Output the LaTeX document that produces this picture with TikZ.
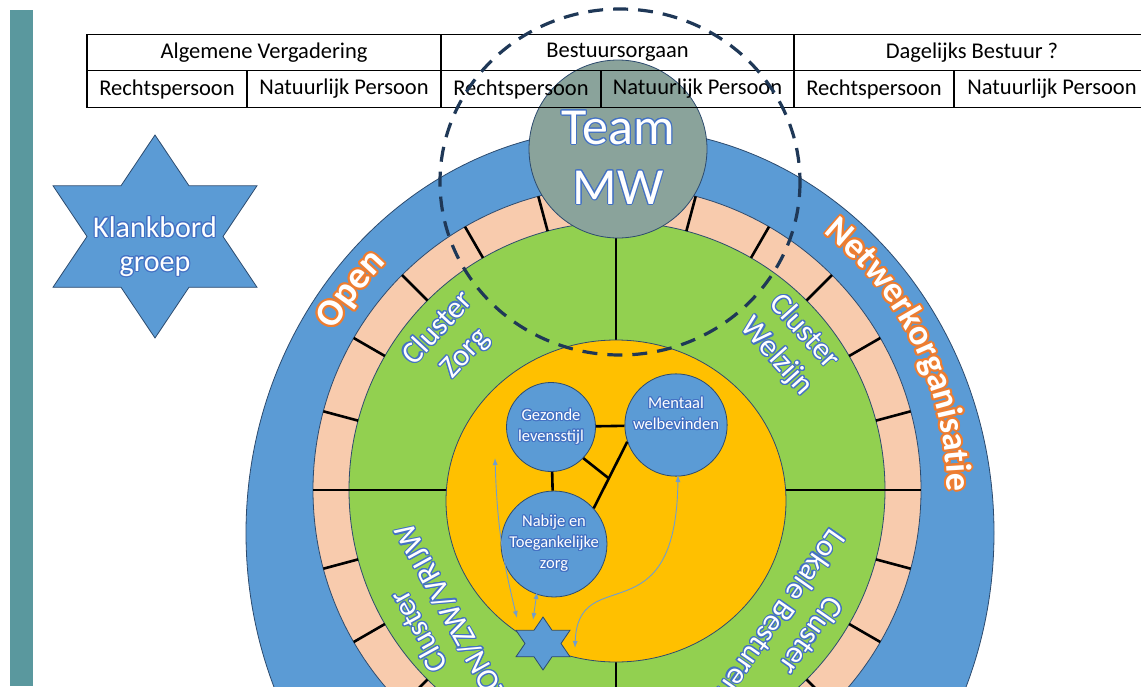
\documentclass[tikz,border=0pt]{standalone}
\usepackage{fontspec}
\setmainfont{Carlito}
\usepackage[copies]{contour}
\usetikzlibrary{arrows.meta,decorations.text,positioning}

\definecolor{tealbar}{RGB}{90,152,158}
\definecolor{ringblue}{RGB}{91,155,213}
\definecolor{peach}{RGB}{248,203,173}
\definecolor{leaf}{RGB}{146,208,80}
\definecolor{gold}{RGB}{255,192,0}
\definecolor{teamgray}{RGB}{138,163,155}
\definecolor{edgenavy}{RGB}{45,75,110}
\definecolor{dashnavy}{RGB}{31,56,87}
\definecolor{glowblue}{RGB}{68,114,196}
\definecolor{wordorange}{RGB}{237,125,49}
\definecolor{arrowblue}{RGB}{112,157,207}

\contourlength{1.1pt}
\newcommand\glow[1]{\contour{glowblue}{#1}}
\newcommand\oglow[1]{{\contourlength{2pt}\contour{wordorange}{#1}}}

\tikzset{
  hexagram/.pic={
    \filldraw[hexfill] (0,-1) -- (1/3,-0.5) -- (1,-0.5) -- (2/3,0) -- (1,0.5) -- (1/3,0.5)
      -- (0,1) -- (-1/3,0.5) -- (-1,0.5) -- (-2/3,0) -- (-1,-0.5) -- (-1/3,-0.5) -- cycle;
  }
}

\begin{document}
\begin{tikzpicture}[x=1pt, y=-1pt,
	ring/.style={draw=edgenavy, line width=0.8},
	tick/.style={black, line width=2.6},
	hexfill/.style={fill=ringblue, draw=edgenavy, line width=0.8},
	cell/.style={rectangle, draw=black, line width=1.2, minimum height=36.5, inner sep=0, font=\fontsize{22.5}{26}\selectfont},
	teamdisc/.style={circle, fill=teamgray, draw=edgenavy, line width=0.8, minimum size=178, inner sep=0},
	teamword/.style={align=center, text=white, inner sep=0, font=\fontsize{52}{60}\selectfont},
	bubble/.style={circle, fill=ringblue, draw=edgenavy, line width=0.8, minimum size=89, inner sep=0, align=center, text=white, font=\fontsize{16.5}{21}\selectfont},
	clusterword/.style={align=center, text=white, inner sep=0, font=\fontsize{31}{37}\selectfont},
	starlabel/.style={align=center, text=white, inner sep=0, font=\fontsize{30}{34}\selectfont},
	bond/.style={black, line width=2.6},
	link/.style={arrowblue, line width=0.9, {Latex[length=7,width=5]}-{Latex[length=7,width=5]}},
	dashring/.style={dashnavy, line width=3.2, dash pattern=on 15 off 10},
	ringword/.style 2 args={decorate, decoration={text effects along path, text={#1}, text align=center,
		text effects/.cd, text along path, character command=\oglow,
		every character/.append style={font=\fontsize{#2}{#2}\selectfont\bfseries, text=white}}}]

	\useasboundingbox (0,0) rectangle (1141,686);
	\clip (0,0) rectangle (1141,686);

	%Background
	\fill[tealbar] (10,10) rectangle (33,686);

	%Rings
	\coordinate (ctr) at (617,490);
	\filldraw[ring, fill=ringblue] (620,533) ellipse[x radius=374, y radius=405];
	\filldraw[ring, fill=peach] (ctr) circle[radius=304];
	\filldraw[ring, fill=leaf] (ctr) circle[radius=268];
	\foreach \a in {-60,-45,...,240}
		\draw[tick] ([shift={(-\a:268)}]ctr) -- ([shift={(-\a:304)}]ctr);
	\draw[tick] (616,222) -- (616,760);
	\draw[tick] (314,490) -- (921,490);
	\filldraw[ring, fill=gold] (616,501) ellipse[x radius=170, y radius=161];

	%Team
	\node[teamdisc] (team) at (618,149) {};
	\node[teamword] (teamtext) at (618,158) {\glow{Team}\\\glow{MW}};

	%Ring texts
	\path[ringword={Open}{38}] ([shift={(-173:324)}]ctr) arc[start angle=-173, end angle=-113, radius=324];
	\path[ringword={Netwerkorganisatie}{36}] ([shift={(-80:330)}]ctr) arc[start angle=-80, end angle=29, radius=330];

	\node[clusterword, rotate=47] (zorg) at ([shift={(-138:222)}]ctr) {\glow{Cluster}\\\glow{Zorg}};
	\node[clusterword, rotate=-48] (welzijn) at ([shift={(-40:226)}]ctr) {\glow{Cluster}\\\glow{Welzijn}};
	\node[clusterword, rotate=-125] (lokaal) at ([shift={(37:225)}]ctr) {\glow{Cluster}\\\glow{Lokale Besturen}};
	\node[clusterword, rotate=119] (vrijw) at ([shift={(144:225)}]ctr) {\glow{Cluster}\\\glow{LON/ZW/VRIJW}};

	%Themes
	\node[bubble] (gezond) at (551,427) {\glow{Gezonde}\\\glow{levensstijl}};
	\node[bubble] (mentaal) at (676,425) {\glow{Mentaal}\\\glow{welbevinden}\\[2pt]};
	\node[bubble] (nabij) at (554,544) {\glow{Nabije en}\\\glow{Toegankelijke}\\\glow{zorg}};

	\draw[bond] (gezond) -- (mentaal);
	\draw[bond] (gezond) -- (nabij);
	\draw[bond] (nabij.42) -- coordinate[pos=0.45] (joint) (mentaal.199);
	\draw[bond] (gezond.-44) -- (joint);

	%Stars
	\pic[xscale=102, yscale=101.5] at (155,236.5) {hexagram};
	\node[starlabel] (klankbord) at (155,247) {\glow{Klankbord}\\\glow{groep}};
	\coordinate (mini) at (543,643.5);
	\pic[xscale=27, yscale=26.5] at (mini) {hexagram};

	%Arrows
	\coordinate (upA) at (495,458);
	\coordinate (downA) at (517,618);
	\coordinate (upB) at (537,592);
	\coordinate (downB) at (533,620);
	\coordinate (upC) at (678,475);
	\coordinate (downC) at (575,648);
	\draw[link] (upA) to[bend right=6] (downA);
	\draw[link] (upB) -- (downB);
	\draw[link] (upC) .. controls (676,640) and (578,560) .. (downC);

	%Table
	\node[cell, minimum width=354] (av) at (264,52.5) {Algemene Vergadering};
	\node[cell, minimum width=353] (bo) at (617.5,52.5) {Bestuursorgaan};
	\node[cell, minimum width=356] (db) at (972,52.5) {Dagelijks Bestuur ?};
	\node[cell, minimum width=160] (rp1) at (167,89) {Rechtspersoon};
	\node[cell, minimum width=194] (np1) at (344,89) {Natuurlijk Persoon};
	\node[cell, minimum width=160] (rp2) at (521,89) {Rechtspersoon};
	\node[cell, minimum width=193] (np2) at (697.5,89) {Natuurlijk Persoon};
	\node[cell, minimum width=160] (rp3) at (874,89) {Rechtspersoon};
	\node[cell, minimum width=196] (np3) at (1052,89) {Natuurlijk Persoon};

	%Dashed circle
	\draw[dashring] (620,182) ellipse[x radius=180, y radius=173];
\end{tikzpicture}
\end{document}
